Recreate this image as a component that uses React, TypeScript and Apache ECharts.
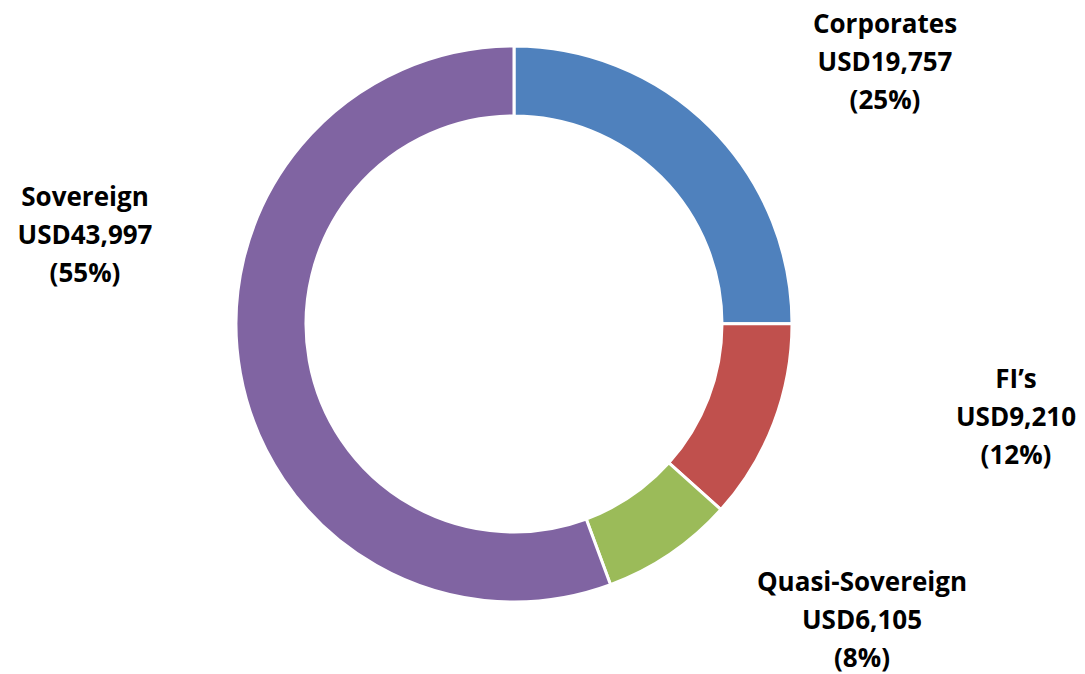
import React, { useEffect, useRef } from "react";
import * as echarts from "echarts";

const categories = ["Corporates", "FI\u2019s", "Quasi-Sovereign", "Sovereign"];
const amounts = [19757, 9210, 6105, 43997];
const amountLabels = ["USD19,757", "USD9,210", "USD6,105", "USD43,997"];
const percentLabels = ["(25%)", "(12%)", "(8%)", "(55%)"];
const colors = ["#4F81BD", "#C0504D", "#9BBB59", "#8064A2"];

const labelPositions: [number, number][] = [
  [885, 61],
  [1016, 416],
  [862, 619],
  [85, 234],
];

export default function App() {
  const ref = useRef<HTMLDivElement>(null);
  useEffect(() => {
    if (!ref.current) return;
    const chart = echarts.init(ref.current, null, { renderer: "svg" });
    chart.setOption({
      animation: false,
      backgroundColor: "#ffffff",
      series: [
        {
          type: "pie",
          center: [514, 324],
          radius: [208, 278],
          startAngle: 90,
          clockwise: true,
          avoidLabelOverlap: false,
          itemStyle: { borderColor: "#ffffff", borderWidth: 3 },
          label: {
            show: true,
            position: "outside",
            formatter: (p: any) =>
              `${categories[p.dataIndex]}\n${amountLabels[p.dataIndex]}\n${percentLabels[p.dataIndex]}`,
            fontFamily: "Open Sans",
            fontWeight: "bold",
            fontSize: 26,
            lineHeight: 38,
            color: "#000000",
            align: "center",
          },
          labelLine: { show: false },
          labelLayout: (params: any) => {
            const pos = labelPositions[params.dataIndex];
            return { x: pos[0], y: pos[1], align: "center", verticalAlign: "middle" };
          },
          emphasis: { disabled: true },
          data: categories.map((name, i) => ({
            name,
            value: amounts[i],
            itemStyle: { color: colors[i] },
          })),
        },
      ],
    });
    return () => chart.dispose();
  }, []);
  return (
    <div
      ref={ref}
      style={{ position: "fixed", left: 0, top: 0, width: 1085, height: 674 }}
    />
  );
}
